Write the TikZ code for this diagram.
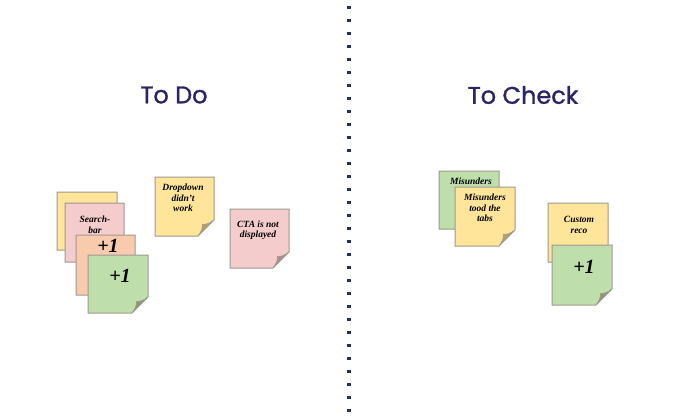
\documentclass[tikz,border=0pt]{standalone}
\usepackage{fontspec}
\setmainfont{Liberation Serif}
\newfontfamily\titlefont[FakeBold=1.3]{Poppins}
\definecolor{navy}{RGB}{43,37,100}
\definecolor{dotblue}{RGB}{38,42,110}
\definecolor{nyellow}{RGB}{255,229,153}
\definecolor{npink}{RGB}{244,204,204}
\definecolor{norange}{RGB}{248,203,173}
\definecolor{ngreen}{RGB}{190,222,172}
\definecolor{nborder}{RGB}{160,152,145}
\newcommand\snote[5]{%
  \filldraw[fill=#5,draw=nborder,line width=1pt]
    (#1,#2) -- (#3,#2) -- (#3,#4-16) -- (#3-16,#4) -- (#1,#4) -- cycle;
  \filldraw[fill=#5!70!black,draw=nborder,line width=0.6pt]
    (#3,#4-16) .. controls (#3-6,#4-12) .. (#3-11.5,#4-11.5)
    .. controls (#3-12,#4-6) .. (#3-16,#4) -- cycle;
}
\tikzset{
  title/.style={font=\titlefont\fontsize{24}{28}\selectfont, text=navy},
  notetext/.style={font=\bfseries\itshape\fontsize{9.5}{10.5}\selectfont, align=center, inner sep=0pt},
  plusone/.style={font=\bfseries\itshape\fontsize{20}{21}\selectfont, inner sep=0pt},
}
\begin{document}
\begin{tikzpicture}[x=1pt,y=-1pt]
\useasboundingbox (0,0) rectangle (698,418);
\coordinate (dtop) at (349,6);
\coordinate (dbot) at (349,418);
\draw[dotblue, line width=3.2pt, dash pattern=on 3.2pt off 9.8pt] (dtop) -- (dbot);
\node[title] (todo) at (174,95) {To Do};
\node[title] (tocheck) at (523,95) {To Check};
% left stack
\snote{57}{192}{117}{250}{nyellow}
\snote{65}{203}{124}{262}{npink}
\node[notetext] (search) at (95,225) {Search-\\bar};
\snote{76}{235}{135}{295}{norange}
\node[plusone] (p1) at (108,246) {+1};
\snote{88}{255}{148}{313}{ngreen}
\node[plusone] (p2) at (120,276) {+1};
\snote{155}{177}{214}{236}{nyellow}
\node[notetext] (drop) at (183,198) {Dropdown\\didn't\\work};
\snote{230}{209}{289}{268}{npink}
\node[notetext] (cta) at (258,230) {CTA is not\\displayed};
% right side
\snote{439}{171}{499}{229}{ngreen}
\node[notetext] (mis1) at (471,181) {Misunders};
\snote{455}{187}{515}{246}{nyellow}
\node[notetext] (mis2) at (485,208) {Misunders\\tood the\\tabs};
\snote{548}{203}{608}{262}{nyellow}
\node[notetext] (reco) at (579,225) {Custom\\reco};
\snote{552}{245}{612}{305}{ngreen}
\node[plusone] (p3) at (584,267) {+1};
\end{tikzpicture}
\end{document}
